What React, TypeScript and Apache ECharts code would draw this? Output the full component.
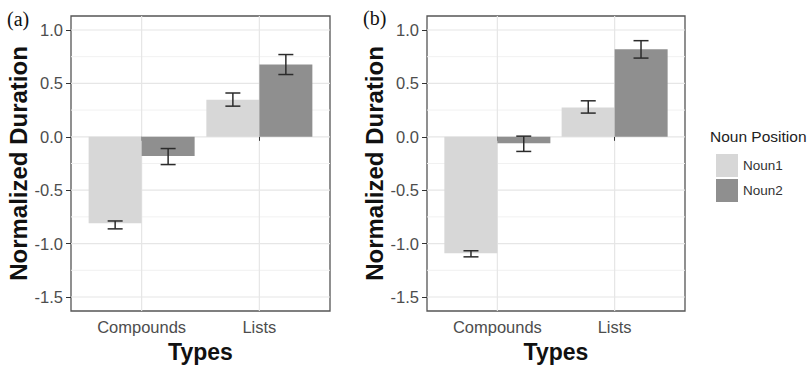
import React, { useEffect, useRef } from "react";
import * as echarts from "echarts";

const categories = ["Compounds", "Lists"];
const categoryPositions = [1, 2];
const seriesNames = ["Noun1", "Noun2"];
const panelLabels = ["(a)", "(b)"];
const yTicks = [-1.5, -1.0, -0.5, 0.0, 0.5, 1.0];
const yMinorGrid = [-1.25, -0.75, -0.25, 0.25, 0.75];

// Panel (a)
const aNoun1 = [-0.81, 0.346];
const aNoun1Low = [-0.862, 0.287];
const aNoun1High = [-0.788, 0.41];
const aNoun2 = [-0.18, 0.677];
const aNoun2Low = [-0.26, 0.583];
const aNoun2High = [-0.11, 0.77];

// Panel (b)
const bNoun1 = [-1.09, 0.274];
const bNoun1Low = [-1.124, 0.222];
const bNoun1High = [-1.067, 0.337];
const bNoun2 = [-0.06, 0.82];
const bNoun2Low = [-0.137, 0.737];
const bNoun2High = [0.006, 0.9];

const colors = ["#d7d7d7", "#8f8f8f"];
const FONT = "Liberation Sans, Arial, sans-serif";

export default function App() {
  const ref = useRef<HTMLDivElement>(null);
  useEffect(() => {
    if (!ref.current) return;
    const chart = echarts.init(ref.current, null, { renderer: "svg" });

    const grids = [
      { left: 71, top: 16, width: 259, height: 295 },
      { left: 427, top: 16, width: 258, height: 295 },
    ];
    const panels = [
      { n1: aNoun1, n1l: aNoun1Low, n1h: aNoun1High, n2: aNoun2, n2l: aNoun2Low, n2h: aNoun2High },
      { n1: bNoun1, n1l: bNoun1Low, n1h: bNoun1High, n2: bNoun2, n2l: bNoun2Low, n2h: bNoun2High },
    ];

    const xAxes: any[] = [];
    const yAxes: any[] = [];
    const series: any[] = [];

    grids.forEach((g, i) => {
      xAxes.push({
        type: "value",
        gridIndex: i,
        min: 0.4,
        max: 2.6,
        name: "Types",
        nameLocation: "middle",
        nameGap: 29,
        nameTextStyle: { fontFamily: FONT, fontWeight: "bold", fontSize: 23, color: "#111" },
        axisLine: { show: false },
        splitLine: { show: false },
        axisTick: { show: true, customValues: categoryPositions, length: 4, lineStyle: { color: "#333", width: 1 } },
        axisLabel: {
          customValues: categoryPositions,
          margin: 7,
          fontFamily: FONT,
          fontSize: 16.5,
          color: "#4d4d4d",
          formatter: (v: number) => categories[categoryPositions.indexOf(v)] ?? "",
        },
      });
      yAxes.push({
        type: "value",
        gridIndex: i,
        min: -1.631,
        max: 1.131,
        name: "Normalized Duration",
        nameLocation: "middle",
        nameGap: 38,
        nameRotate: 90,
        nameTextStyle: { fontFamily: FONT, fontWeight: "bold", fontSize: 24, color: "#111" },
        axisLine: { show: false },
        splitLine: { show: false },
        axisTick: { show: true, customValues: yTicks, length: 5, lineStyle: { color: "#333", width: 1 } },
        axisLabel: {
          customValues: yTicks,
          margin: 8,
          fontFamily: FONT,
          fontSize: 16.5,
          color: "#4d4d4d",
          formatter: (v: number) => v.toFixed(1),
        },
      });

      // gridlines
      const hData = [
        ...yMinorGrid.map((v) => [1.5, v, 0]),
        ...yTicks.map((v) => [1.5, v, 1]),
      ];
      series.push({
        type: "custom",
        name: "hgrid" + i,
        xAxisIndex: i,
        yAxisIndex: i,
        z: 0,
        silent: true,
        data: hData,
        renderItem: (params: any, api: any) => {
          const cs = params.coordSys;
          const y = api.coord([1.5, api.value(1)])[1];
          const major = api.value(2) === 1;
          return {
            type: "line",
            shape: { x1: cs.x, y1: y, x2: cs.x + cs.width, y2: y },
            style: { stroke: major ? "#e6e6e6" : "#f1f1f1", lineWidth: major ? 1.2 : 1 },
          };
        },
      });
      series.push({
        type: "custom",
        name: "vgrid" + i,
        xAxisIndex: i,
        yAxisIndex: i,
        z: 0,
        silent: true,
        data: categoryPositions.map((v) => [v, 0]),
        renderItem: (params: any, api: any) => {
          const cs = params.coordSys;
          const x = api.coord([api.value(0), 0])[0];
          return {
            type: "line",
            shape: { x1: x, y1: cs.y, x2: x, y2: cs.y + cs.height },
            style: { stroke: "#e6e6e6", lineWidth: 1.2 },
          };
        },
      });

      const p = panels[i];
      const vals = [p.n1, p.n2];
      const lows = [p.n1l, p.n2l];
      const highs = [p.n1h, p.n2h];
      seriesNames.forEach((name, s) => {
        series.push({
          type: "bar",
          name,
          xAxisIndex: i,
          yAxisIndex: i,
          barWidth: 53,
          barGap: "0%",
          z: 2,
          itemStyle: { color: colors[s] },
          data: categoryPositions.map((x, k) => [x, vals[s][k]]),
        });
      });
      // error bars
      const ebData: number[][] = [];
      seriesNames.forEach((_, s) => {
        categoryPositions.forEach((x, k) => {
          ebData.push([x + (s === 0 ? -0.225 : 0.225), lows[s][k], highs[s][k]]);
        });
      });
      series.push({
        type: "custom",
        name: "err" + i,
        xAxisIndex: i,
        yAxisIndex: i,
        z: 3,
        silent: true,
        data: ebData,
        renderItem: (params: any, api: any) => {
          const lo = api.coord([api.value(0), api.value(1)]);
          const hi = api.coord([api.value(0), api.value(2)]);
          const hw = 7.5;
          const st = { stroke: "#2b2b2b", lineWidth: 1.5 };
          return {
            type: "group",
            children: [
              { type: "line", shape: { x1: lo[0], y1: lo[1], x2: hi[0], y2: hi[1] }, style: st },
              { type: "line", shape: { x1: lo[0] - hw, y1: lo[1], x2: lo[0] + hw, y2: lo[1] }, style: st },
              { type: "line", shape: { x1: hi[0] - hw, y1: hi[1], x2: hi[0] + hw, y2: hi[1] }, style: st },
            ],
          };
        },
      });
    });

    chart.setOption({
      animation: false,
      backgroundColor: "#ffffff",
      grid: grids.map((g) => ({
        ...g,
        show: true,
        backgroundColor: "#ffffff",
        borderColor: "#555555",
        borderWidth: 1.3,
        containLabel: false,
      })),
      xAxis: xAxes,
      yAxis: yAxes,
      legend: {
        data: seriesNames,
        orient: "vertical",
        left: 711,
        top: 149,
        itemWidth: 22,
        itemHeight: 23,
        itemGap: 2,
        icon: "rect",
        selectedMode: false,
        textStyle: { fontFamily: FONT, fontSize: 13.5, color: "#333" },
      },
      graphic: [
        {
          type: "text",
          left: 7,
          top: 9,
          style: { text: panelLabels[0], font: "20px 'Liberation Serif', serif", fill: "#111" },
        },
        {
          type: "text",
          left: 363,
          top: 8,
          style: { text: panelLabels[1], font: "20px 'Liberation Serif', serif", fill: "#111" },
        },
        {
          type: "text",
          left: 710,
          top: 128,
          style: { text: "Noun Position", font: "15.5px 'Liberation Sans', Arial, sans-serif", fill: "#222" },
        },
      ],
      series,
    });
    return () => chart.dispose();
  }, []);
  return <div ref={ref} style={{ width: 811, height: 369, position: "absolute", left: 0, top: 0 }} />;
}
